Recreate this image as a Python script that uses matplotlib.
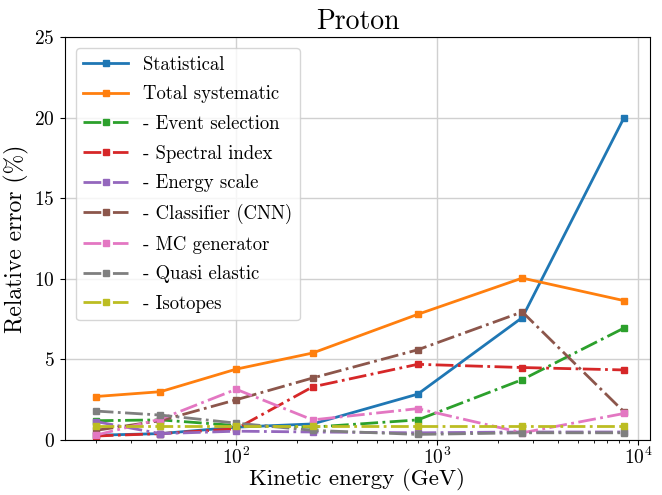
import matplotlib
matplotlib.use('Agg')
import matplotlib.pyplot as plt
import numpy as np

plt.rcParams['font.family'] = 'serif'
plt.rcParams['font.serif'] = ['cmr10', 'DejaVu Serif']
plt.rcParams['mathtext.fontset'] = 'cm'
plt.rcParams['axes.formatter.use_mathtext'] = True
plt.rcParams['axes.unicode_minus'] = False

# Kinetic energy bin centres (GeV)
energy = [20, 42, 100, 240, 800, 2650, 8500]

statistical = [0.3, 0.4, 0.8, 1.0, 2.85, 7.6, 20.0]
total_syst = [2.7, 3.0, 4.4, 5.4, 7.8, 10.05, 8.65]
event_sel = [1.2, 1.25, 0.9, 0.8, 1.25, 3.75, 6.95]
spectral_idx = [0.25, 0.4, 0.7, 3.3, 4.7, 4.5, 4.35]
energy_scale = [1.15, 0.4, 0.55, 0.5, 0.45, 0.5, 0.5]
classifier = [0.6, 1.2, 2.5, 3.85, 5.6, 7.95, 1.75]
mc_gen = [0.3, 1.3, 3.15, 1.25, 1.95, 0.45, 1.65]
quasi_el = [1.8, 1.55, 1.05, 0.6, 0.35, 0.45, 0.45]
isotopes = [0.85, 0.85, 0.85, 0.85, 0.85, 0.85, 0.85]

labels = ['Statistical', 'Total systematic', '- Event selection', '- Spectral index',
          '- Energy scale', '- Classifier (CNN)', '- MC generator', '- Quasi elastic',
          '- Isotopes']
series = [statistical, total_syst, event_sel, spectral_idx, energy_scale,
          classifier, mc_gen, quasi_el, isotopes]

fig = plt.figure(figsize=(6.62, 4.95), dpi=100)
ax = fig.add_axes([0.0975, 0.111, 0.885, 0.814])

for i, (vals, lab) in enumerate(zip(series, labels)):
    ls = '-' if i < 2 else '-.'
    ax.plot(energy, vals, ls, marker='s', markersize=5, linewidth=2,
            color='C%d' % i, label=lab)

ax.set_xscale('log')
ax.set_xlim(14, 11500)
ax.set_ylim(0, 25)
ax.set_yticks([0, 5, 10, 15, 20, 25])
ax.grid(True, which='major', color='#d0d0d0', linewidth=1)
ax.set_axisbelow(True)
ax.tick_params(labelsize=14)
ax.tick_params(axis='x', pad=1)
ax.set_xlabel('Kinetic energy (GeV)', fontsize=16.5, labelpad=0)
ax.set_ylabel('Relative error (%)', fontsize=17)
ax.set_title('Proton', fontsize=20)
ax.legend(loc='upper left', fontsize=13.5, handlelength=2.4, labelspacing=0.62,
          borderaxespad=0.6)

fig.savefig('out.png', dpi=100)
